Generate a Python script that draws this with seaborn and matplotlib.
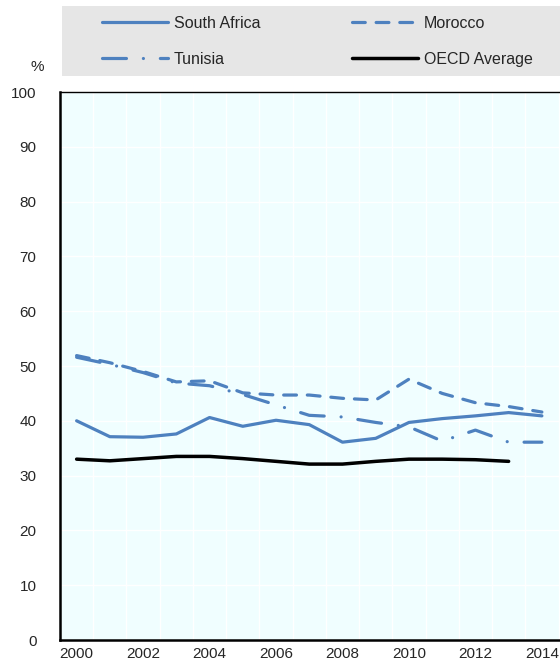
import pandas as pd
import matplotlib
matplotlib.use("Agg")
import matplotlib.pyplot as plt
import seaborn as sns
from matplotlib.patches import Rectangle
from matplotlib.ticker import MultipleLocator

sns.set_style("white")
plt.rcParams['font.family'] = ['Liberation Sans', 'DejaVu Sans']

# data
years = list(range(2000, 2015))
south_africa = [40.0, 37.1, 37.0, 37.6, 40.6, 39.0, 40.1, 39.3, 36.1, 36.8, 39.7, 40.4, 40.9, 41.5, 40.9]
morocco = [51.9, 50.6, 49.0, 47.1, 47.3, 45.1, 44.7, 44.7, 44.1, 43.8, 47.6, 45.0, 43.3, 42.6, 41.6]
tunisia = [51.6, 50.3, 48.8, 46.9, 46.4, 44.8, 42.9, 41.0, 40.7, 39.7, 38.9, 36.3, 38.3, 36.1, 36.1]
oecd_years = list(range(2000, 2014))
oecd = [33.0, 32.7, 33.1, 33.5, 33.5, 33.1, 32.6, 32.1, 32.1, 32.6, 33.0, 33.0, 32.9, 32.6]

series_names = ["South Africa", "Morocco", "Tunisia", "OECD Average"]

df = pd.concat([
    pd.DataFrame({"year": years, "value": south_africa, "country": "South Africa"}),
    pd.DataFrame({"year": years, "value": morocco, "country": "Morocco"}),
    pd.DataFrame({"year": years, "value": tunisia, "country": "Tunisia"}),
    pd.DataFrame({"year": oecd_years, "value": oecd, "country": "OECD Average"}),
])

blue = "#4E81BF"
palette = {"South Africa": blue, "Morocco": blue, "Tunisia": blue, "OECD Average": "black"}
dashes = {"South Africa": "", "Morocco": (4, 3.4), "Tunisia": (7.5, 5.3, 0.01, 5.3), "OECD Average": ""}

fig = plt.figure(figsize=(5.6, 6.7), dpi=100)
ax = fig.add_axes([60 / 560, 30 / 670, 498.5 / 560, 548 / 670])
ax.set_facecolor("#F0FEFF")

sns.lineplot(data=df, x="year", y="value", hue="country", style="country",
             hue_order=series_names, style_order=series_names,
             palette=palette, dashes=dashes, linewidth=2.3, legend=False, ax=ax)

for line in ax.get_lines():
    line.set_dash_capstyle("round")
    line.set_solid_capstyle("round")
    if line.get_color() == "black":
        line.set_linewidth(2.5)

ax.set_xlim(1999.5, 2014.5)
ax.set_ylim(0, 100)
ax.set_xticks(range(2000, 2015, 2))
ax.xaxis.set_minor_locator(MultipleLocator(1, offset=0.5))
ax.yaxis.set_major_locator(MultipleLocator(10))
ax.tick_params(axis="x", which="major", length=0, pad=5, labelsize=11)
ax.tick_params(axis="x", which="minor", direction="in", length=6, width=1.2, color="black")
ax.tick_params(axis="y", which="major", direction="in", length=5, width=1.2, pad=17, labelsize=11, color="black")
ax.set_xlabel("")
ax.set_ylabel("")

ax.grid(True, axis="x", which="minor", color="white", linewidth=1)
ax.grid(True, axis="y", which="major", color="white", linewidth=1)
ax.set_axisbelow(True)

for side in ["left", "bottom"]:
    ax.spines[side].set_color("black")
    ax.spines[side].set_linewidth(1.8)
ax.spines["top"].set_color("black")
ax.spines["top"].set_linewidth(1.0)
ax.spines["right"].set_visible(False)

fig.text(37.5 / 560, 1 - 67 / 670, "%", ha="center", va="center", fontsize=11)

# grey legend band
fig.add_artist(Rectangle((62 / 560, 1 - 76 / 670), 1, 70 / 670, transform=fig.transFigure,
                         facecolor="#E6E6E6", edgecolor="none", zorder=0))

lines = dict(zip(series_names, ax.get_lines()))
order = ["South Africa", "Tunisia", "Morocco", "OECD Average"]
fig.legend([lines[n] for n in order], order, ncol=2, loc="upper left",
           bbox_to_anchor=(102 / 560, 1 - 16 / 670), frameon=False, fontsize=11.5,
           handlelength=4.13, handletextpad=0.35, columnspacing=5.77,
           labelspacing=1.32, borderpad=0, borderaxespad=0)

fig.savefig("out.png", dpi=100)
